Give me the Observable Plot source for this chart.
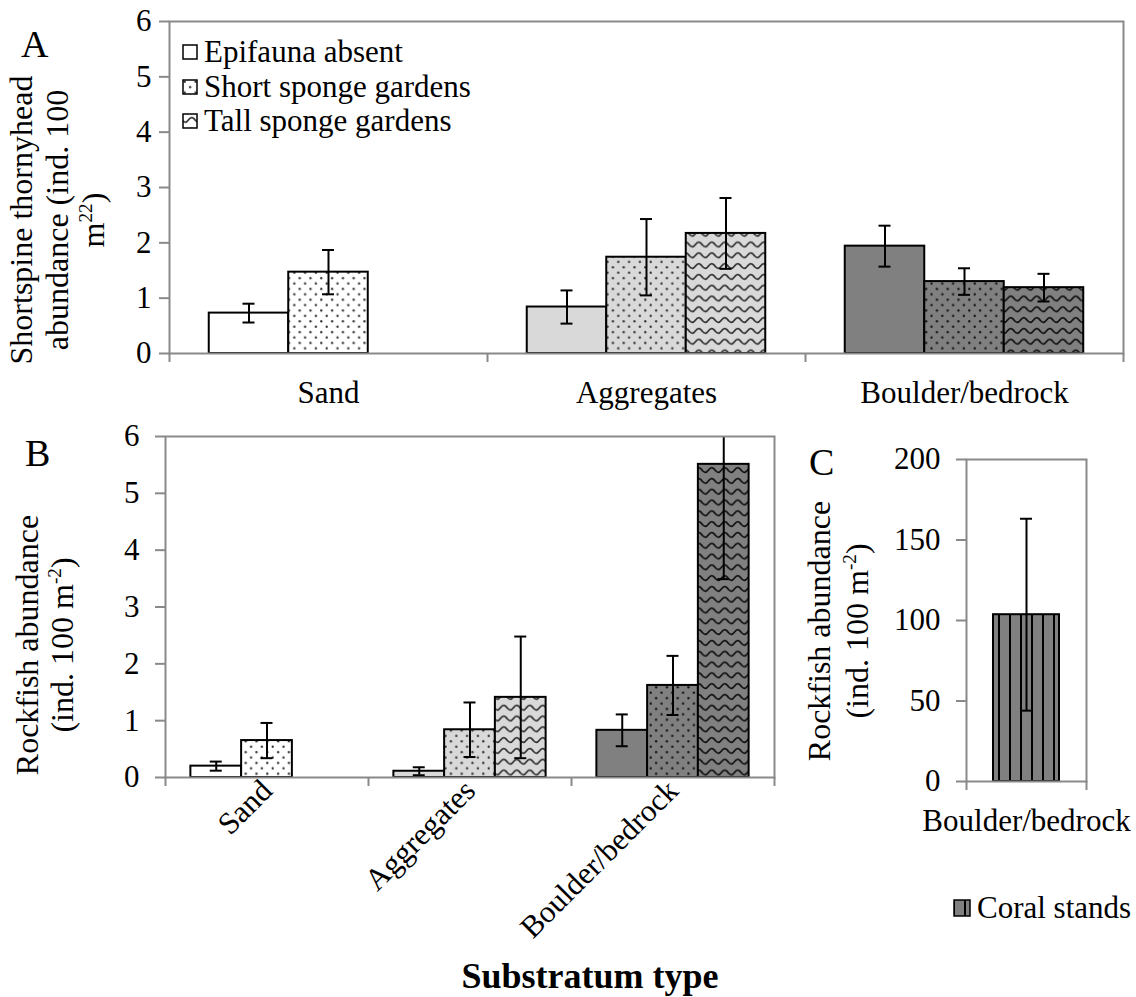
<!DOCTYPE html>
<html><head><meta charset="utf-8">
<script src="https://cdn.jsdelivr.net/npm/d3@7"></script>
<script src="https://cdn.jsdelivr.net/npm/@observablehq/plot@0.6"></script>
<style>
body{margin:0;background:#fff;}
#root{position:relative;width:1136px;height:997px;color:#000;background:#fff;}
#root * {font-family:"Liberation Serif" !important;}
.abs{position:absolute;}
.vt{position:absolute;font-size:32px;white-space:nowrap;text-align:center;transform:translate(-50%,-50%) rotate(-90deg);}
.lbl{position:absolute;font-size:31px;line-height:31px;white-space:nowrap;}
sup{font-size:0.6em;line-height:0;vertical-align:0.6em;}
.leg{position:absolute;display:flex;align-items:center;font-size:31px;line-height:30px;white-space:nowrap;}
.leg svg{margin-right:6px;}
</style></head><body>
<div id="root"></div>
<script>
// ---------- data ----------
const substrates = ["Sand", "Aggregates", "Boulder/bedrock"];
const habitats = ["Epifauna absent", "Short sponge gardens", "Tall sponge gardens"];

// Panel A: shortspine thornyhead abundance (mean, SE)
const thornyAbsent   = [0.73, 0.84, 1.94];
const thornyAbsentSE = [0.17, 0.30, 0.37];
const thornyShort    = [1.47, 1.74, 1.30];
const thornyShortSE  = [0.40, 0.69, 0.24];
const thornyTall     = [null, 2.17, 1.19];
const thornyTallSE   = [null, 0.64, 0.25];
const yTicksA = [0, 1, 2, 3, 4, 5, 6];

// Panel B: rockfish abundance (mean, SE)
const rockAbsent   = [0.20, 0.11, 0.83];
const rockAbsentSE = [0.08, 0.07, 0.28];
const rockShort    = [0.65, 0.84, 1.62];
const rockShortSE  = [0.31, 0.48, 0.52];
const rockTall     = [null, 1.41, 5.51];
const rockTallSE   = [null, 1.07, 2.02];
const yTicksB = [0, 1, 2, 3, 4, 5, 6];

// Panel C: rockfish abundance in coral stands
const coralSubstrate = ["Boulder/bedrock"];
const coralLabel = ["Coral stands"];
const coralRock   = [103.6];
const coralRockSE = [59.6];
const yTicksC = [0, 50, 100, 150, 200];

// ---------- styling ----------
const GRAY = "#898989";
const FONT = "Liberation Serif";
const solid = ["#ffffff", "#d9d9d9", "#808080"];
const bgKey = ["W", "L", "G"];
const dotInk = {W: "#333", L: "#333", G: "#111"};

function patternDefs(p) {
  let s = "<defs>";
  for (const [key, bg] of [["W", "#ffffff"], ["L", "#d9d9d9"], ["G", "#808080"]]) {
    s += `<pattern id="${p}dots-${key}" patternUnits="userSpaceOnUse" width="10.8" height="10.8"><rect width="10.8" height="10.8" fill="${bg}"/><circle cx="2.7" cy="2.7" r="1.15" fill="${dotInk[key]}"/><circle cx="8.1" cy="8.1" r="1.15" fill="${dotInk[key]}"/></pattern>`;
    s += `<pattern id="${p}waves-${key}" patternUnits="userSpaceOnUse" width="13" height="10.8"><rect width="13" height="10.8" fill="${bg}"/><path d="M-6.5,6.8 Q-3.25,2.2 0,6.8 T6.5,6.8 T13,6.8 T19.5,6.8" fill="none" stroke="${dotInk[key]}" stroke-width="1.7"/></pattern>`;
  }
  s += `<pattern id="${p}stripes-G" patternUnits="userSpaceOnUse" width="11" height="11"><rect width="11" height="11" fill="#808080"/><rect x="0" y="0" width="2" height="11" fill="#000"/></pattern>`;
  return s + "</defs>";
}
function defsMark(p) {
  return () => {
    const g = document.createElementNS("http://www.w3.org/2000/svg", "g");
    g.innerHTML = patternDefs(p);
    return g;
  };
}
function fillFor(p, k, i) {
  if (k === 0) return solid[i];
  return k === 1 ? `url(#${p}dots-${bgKey[i]})` : `url(#${p}waves-${bgKey[i]})`;
}
function rowsFor(means, ses, k) {
  return substrates.map((s, i) => ({substrate: s, habitat: habitats[k], k, idx: i, mean: means[i], se: ses[i]}))
    .filter(d => d.mean != null);
}
const tickTxt = {fontFamily: FONT, fontSize: 31};

function groupedPanel({p, series, width, height, margin, yDomain, yTicks, yPad, xAxisOpts}) {
  const bw = (width - margin.left - margin.right) / substrates.length;
  const barW = bw * 0.25;
  const marks = [defsMark(p)];
  series.forEach((rows, k) => {
    const start = bw * (0.125 + 0.25 * k);
    marks.push(Plot.barY(rows, {x: "substrate", y: "mean", fill: d => fillFor(p, k, d.idx),
      stroke: "black", strokeWidth: 2, insetLeft: start, insetRight: bw - start - barW}));
  });
  series.forEach((rows, k) => {
    const c = bw * (0.25 + 0.25 * k);
    marks.push(Plot.ruleX(rows, {x: "substrate", y1: d => d.mean - d.se, y2: d => d.mean + d.se,
      dx: c - bw / 2, stroke: "black", strokeWidth: 2, clip: true}));
    marks.push(Plot.tickY(rows, {x: "substrate", y: d => d.mean + d.se, insetLeft: c - 6, insetRight: bw - c - 6,
      stroke: "black", strokeWidth: 2, clip: true}));
    marks.push(Plot.tickY(rows, {x: "substrate", y: d => d.mean - d.se, insetLeft: c - 6, insetRight: bw - c - 6,
      stroke: "black", strokeWidth: 2, clip: true}));
  });
  marks.push(Plot.frame({stroke: GRAY, strokeWidth: 2}));
  marks.push(Plot.axisY({ticks: yTicks, tickSize: 10, tickPadding: yPad, stroke: GRAY, strokeWidth: 2, fill: "black", label: null, tickFormat: d => String(d), ...tickTxt}));
  marks.push(Plot.axisX({tickSize: 0, label: null, fill: "black", ...tickTxt, ...xAxisOpts}));
  marks.push(Plot.axisX({tickSize: 9, label: null, tickFormat: () => "", dx: -bw / 2, stroke: GRAY, strokeWidth: 2}));
  marks.push(Plot.axisX([substrates[substrates.length - 1]], {tickSize: 9, label: null, tickFormat: () => "", dx: bw / 2, stroke: GRAY, strokeWidth: 2}));
  return Plot.plot({
    width, height,
    marginLeft: margin.left, marginRight: margin.right, marginTop: margin.top, marginBottom: margin.bottom,
    style: {fontFamily: FONT, fontSize: "31px", color: "black", background: "transparent", overflow: "visible"},
    x: {type: "band", domain: substrates, padding: 0, axis: null},
    y: {domain: yDomain, axis: null},
    color: {type: "identity"},
    marks
  });
}

const root = document.getElementById("root");
function place(el, left, top) {
  const d = document.createElement("div");
  d.className = "abs"; d.style.left = left + "px"; d.style.top = top + "px";
  d.appendChild(el); root.appendChild(d); return d;
}
function html(str, cls, styles) {
  const d = document.createElement("div");
  d.className = cls; d.innerHTML = str; d.style.fontFamily = '"Liberation Serif"';
  Object.assign(d.style, styles); root.appendChild(d); return d;
}

// Panel A
const seriesA = [rowsFor(thornyAbsent, thornyAbsentSE, 0), rowsFor(thornyShort, thornyShortSE, 1), rowsFor(thornyTall, thornyTallSE, 2)];
place(groupedPanel({p: "a-", series: seriesA, width: 1136, height: 415, margin: {left: 169, right: 13, top: 21, bottom: 62},
  yDomain: [0, 6], yTicks: yTicksA, yPad: 8, xAxisOpts: {tickPadding: 27}}), 0, 0);

// Panel B
const seriesB = [rowsFor(rockAbsent, rockAbsentSE, 0), rowsFor(rockShort, rockShortSE, 1), rowsFor(rockTall, rockTallSE, 2)];
place(groupedPanel({p: "b-", series: seriesB, width: 800, height: 577, margin: {left: 165, right: 26, top: 16, bottom: 220},
  yDomain: [0, 6], yTicks: yTicksB, yPad: 16, xAxisOpts: {tickPadding: 8, tickRotate: -45}}), 0, 420);

// Panel C
const coralRows = coralSubstrate.map((s, i) => ({substrate: s, mean: coralRock[i], se: coralRockSE[i]}));
const cW = 336, cM = {left: 166, right: 50, top: 39, bottom: 60};
const cBw = cW - cM.left - cM.right;
const cBar = cBw * 0.55;
const plotC = Plot.plot({
  width: cW, height: 421,
  marginLeft: cM.left, marginRight: cM.right, marginTop: cM.top, marginBottom: cM.bottom,
  style: {fontFamily: FONT, fontSize: "31px", color: "black", background: "transparent", overflow: "visible"},
  x: {type: "band", domain: coralSubstrate, padding: 0, axis: null},
  y: {domain: [0, 200], axis: null},
  color: {type: "identity"},
  marks: [
    defsMark("c-"),
    Plot.barY(coralRows, {x: "substrate", y: "mean", fill: () => "url(#c-stripes-G)", stroke: "black", strokeWidth: 2,
      insetLeft: (cBw - cBar) / 2, insetRight: (cBw - cBar) / 2}),
    Plot.ruleX(coralRows, {x: "substrate", y1: d => d.mean - d.se, y2: d => d.mean + d.se, stroke: "black", strokeWidth: 2}),
    Plot.tickY(coralRows, {x: "substrate", y: d => d.mean + d.se, insetLeft: cBw / 2 - 6, insetRight: cBw / 2 - 6, stroke: "black", strokeWidth: 2}),
    Plot.tickY(coralRows, {x: "substrate", y: d => d.mean - d.se, insetLeft: cBw / 2 - 6, insetRight: cBw / 2 - 6, stroke: "black", strokeWidth: 2}),
    Plot.frame({stroke: GRAY, strokeWidth: 2}),
    Plot.axisY({ticks: yTicksC, tickSize: 10, tickPadding: 16, stroke: GRAY, strokeWidth: 2, fill: "black", label: null, tickFormat: d => String(d), ...tickTxt}),
    Plot.axisX({tickSize: 0, tickPadding: 27, label: null, fill: "black", ...tickTxt}),
    Plot.axisX({tickSize: 9, label: null, tickFormat: () => "", dx: -cBw / 2, stroke: GRAY, strokeWidth: 2}),
    Plot.axisX({tickSize: 9, label: null, tickFormat: () => "", dx: cBw / 2, stroke: GRAY, strokeWidth: 2})
  ]
});
place(plotC, 800, 420);

// Axis titles
html("Shortspine thornyhead<br>abundance (ind. 100<br>m<sup>22</sup>)", "vt", {left: "57px", top: "220px", lineHeight: "36px"});
html("Rockfish abundance<br>(ind. 100 m<sup>-2</sup>)", "vt", {left: "45px", top: "645px", lineHeight: "35px"});
html("Rockfish abundance<br>(ind. 100 m<sup>-2</sup>)", "vt", {left: "838px", top: "631px", lineHeight: "38px"});
html("Substratum type", "lbl", {left: "590px", top: "958px", fontWeight: "bold", fontSize: "36px", lineHeight: "36px", transform: "translateX(-50%)"});

// Panel letters
html("A", "lbl", {left: "21px", top: "25px", fontSize: "38px", lineHeight: "38px"});
html("B", "lbl", {left: "25px", top: "434px", fontSize: "38px", lineHeight: "38px"});
html("C", "lbl", {left: "809px", top: "443px", fontSize: "38px", lineHeight: "38px"});

// Legend A
const legFills = ["#ffffff", "url(#lg1)", "url(#lg2)"];
habitats.forEach((h, k) => {
  const defs = k === 0 ? "" : patternDefs("lg" + k + "-");
  const fill = k === 0 ? "#ffffff" : (k === 1 ? `url(#lg${k}-dots-W)` : `url(#lg${k}-waves-W)`);
  html(`<svg width="16" height="16">${defs}<rect x="1" y="1" width="14" height="14" fill="${fill}" stroke="black" stroke-width="1.5"/></svg><span>${h}</span>`,
    "leg", {left: "182px", top: (37 + k * 34.5) + "px", height: "30px"});
});
// Legend C
html(`<svg width="18" height="18">${patternDefs("lgc-")}<rect x="1" y="1" width="16" height="16" fill="url(#lgc-stripes-G)" stroke="black" stroke-width="1.5"/></svg><span>${coralLabel[0]}</span>`,
  "leg", {left: "953px", top: "893px", height: "30px"});
</script>
</body></html>
